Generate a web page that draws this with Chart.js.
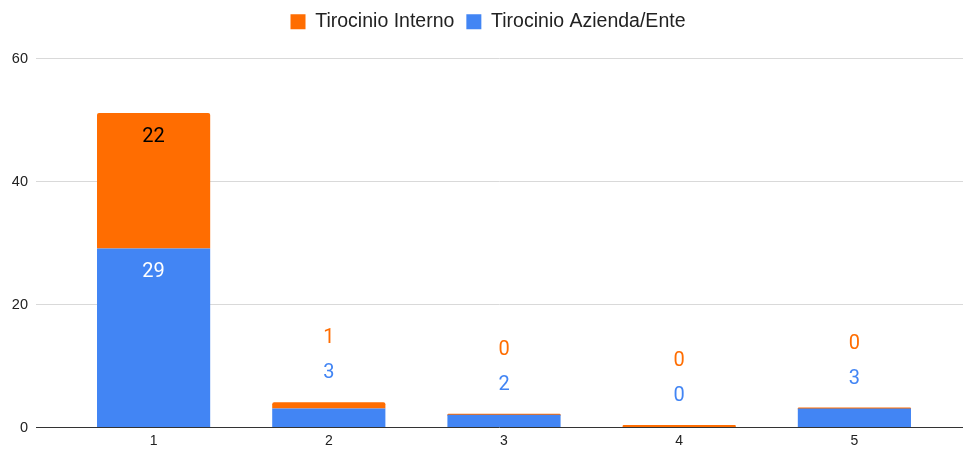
<!DOCTYPE html>
<html>
<head>
<meta charset="utf-8">
<script src="https://cdn.jsdelivr.net/npm/chart.js@4.4.1/dist/chart.umd.min.js"></script>
<style>
  html, body { margin: 0; padding: 0; background: #fff; overflow: hidden; }
  canvas { display: block; }
</style>
</head>
<body>
<canvas id="chart" width="963" height="450"></canvas>
<script>
// dati
const categories = ['1', '2', '3', '4', '5'];
const aziendaValues = [29, 3, 2, 0, 3];
const internoValues = [22, 1, 0, 0, 0];
const yTicks = [0, 20, 40, 60];

const BLUE = '#4285f4', ORANGE = '#ff6d01';
const FONT = 'Roboto, "Noto Sans", sans-serif';
const AXFONT = '"Liberation Sans", Arial, sans-serif';

// linee orizzontali a tutta larghezza + etichette asse y (come Google Sheets)
const fullGrid = {
  id: 'fullGrid',
  beforeDatasetsDraw(chart) {
    const { ctx, chartArea, scales: { y } } = chart;
    ctx.save();
    ctx.font = '14.5px ' + AXFONT;
    ctx.textAlign = 'right';
    ctx.textBaseline = 'middle';
    yTicks.forEach(v => {
      const py = Math.round(y.getPixelForValue(v)) + 0.5;
      ctx.beginPath();
      ctx.strokeStyle = v === 0 ? '#333333' : '#d9d9d9';
      ctx.lineWidth = 1;
      ctx.moveTo(chartArea.left - 30, py);
      ctx.lineTo(chart.width, py);
      ctx.stroke();
      ctx.fillStyle = '#222';
      ctx.fillText(String(v), chartArea.left - 38, py);
    });
    ctx.restore();
  }
};

// etichette valori
const valueLabels = {
  id: 'valueLabels',
  afterDatasetsDraw(chart) {
    const { ctx } = chart;
    const mBlue = chart.getDatasetMeta(0), mOrange = chart.getDatasetMeta(1);
    ctx.save();
    ctx.font = '20px ' + FONT;
    ctx.textAlign = 'center';
    ctx.textBaseline = 'middle';
    categories.forEach((c, i) => {
      const b = mBlue.data[i], o = mOrange.data[i];
      const stackTop = Math.min(b.y, o.y);
      const big = (b.base - b.y) > 40;
      if (big) {
        ctx.fillStyle = '#ffffff';
        ctx.fillText(String(aziendaValues[i]), b.x, b.y + 24);
        ctx.fillStyle = '#000000';
        ctx.fillText(String(internoValues[i]), o.x, o.y + 24);
      } else {
        ctx.fillStyle = BLUE;
        ctx.fillText(String(aziendaValues[i]), b.x, stackTop - 29);
        ctx.fillStyle = ORANGE;
        ctx.fillText(String(internoValues[i]), o.x, stackTop - 64);
      }
    });
    ctx.restore();
  }
};

// spazio extra sotto la legenda
const legendMargin = {
  id: 'legendMargin',
  beforeInit(chart) {
    const fit = chart.legend.fit;
    chart.legend.fit = function() { fit.bind(chart.legend)(); this.height += 16; };
  }
};

new Chart(document.getElementById('chart'), {
  type: 'bar',
  data: {
    labels: categories,
    datasets: [
      { label: 'Tirocinio Azienda/Ente', data: aziendaValues, backgroundColor: BLUE, borderWidth: 0 },
      { label: 'Tirocinio Interno', data: internoValues, backgroundColor: ORANGE, borderWidth: 0,
        minBarLength: 2, borderRadius: { topLeft: 2, topRight: 2 }, borderSkipped: false }
    ]
  },
  options: {
    responsive: false,
    animation: false,
    layout: { padding: { top: 0, right: 21, bottom: 0, left: 34 } },
    datasets: { bar: { categoryPercentage: 1, barPercentage: 0.646 } },
    scales: {
      x: {
        stacked: true,
        afterFit: s => { s.height = 23; },
        grid: { display: false, drawTicks: false },
        border: { display: false },
        ticks: { color: '#222', font: { family: AXFONT, size: 14 }, padding: 6 }
      },
      y: {
        stacked: true,
        min: 0, max: 60,
        afterBuildTicks: s => { s.ticks = yTicks.map(v => ({ value: v })); },
        afterFit: s => { s.width = 32; },
        grid: { display: false, drawTicks: true, tickLength: 30 },
        border: { display: false },
        ticks: { color: 'rgba(0,0,0,0)', font: { family: AXFONT, size: 14.5 }, padding: 8 }
      }
    },
    plugins: {
      legend: {
        position: 'top',
        reverse: true,
        labels: { boxWidth: 15, boxHeight: 15, padding: 12, color: '#222', font: { family: AXFONT, size: 19.5 } }
      },
      tooltip: { enabled: false }
    }
  },
  plugins: [fullGrid, valueLabels, legendMargin]
});
</script>
</body>
</html>
